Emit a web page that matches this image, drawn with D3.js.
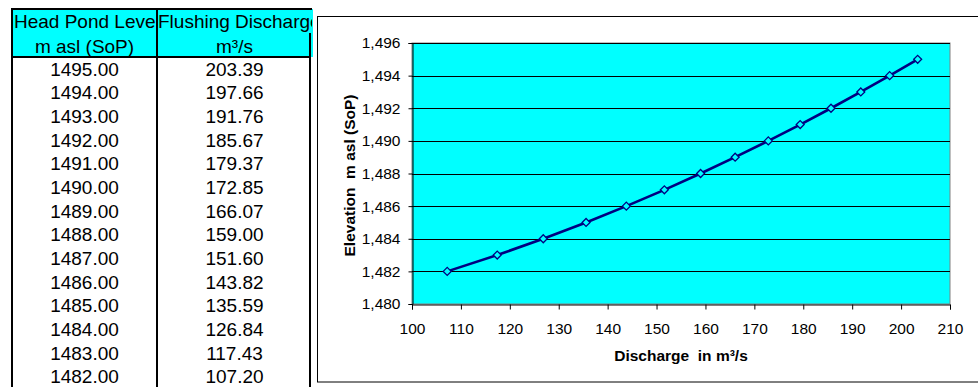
<!DOCTYPE html>
<html>
<head>
<meta charset="utf-8">
<script src="https://cdn.jsdelivr.net/npm/d3@7"></script>
<style>
  html, body { margin: 0; padding: 0; background: #fff; }
  svg { display: block; }
  text { font-family: "Liberation Sans", Arial, sans-serif; }
</style>
</head>
<body>
<svg id="sheet" width="978" height="387"></svg>
<script>
// Head pond level (m asl, SoP) and the flushing discharge it passes (m³/s)
const elevation = [1495, 1494, 1493, 1492, 1491, 1490, 1489, 1488, 1487, 1486, 1485, 1484, 1483, 1482];
const discharge = [203.39, 197.66, 191.76, 185.67, 179.37, 172.85, 166.07, 159.00, 151.60, 143.82, 135.59, 126.84, 117.43, 107.20];
const headerTop = ["Head Pond Level", "Flushing Discharge"];
const headerUnits = ["m asl (SoP)", "m³/s"];
const xTickValues = [100, 110, 120, 130, 140, 150, 160, 170, 180, 190, 200, 210];
const yTickValues = [1480, 1482, 1484, 1486, 1488, 1490, 1492, 1494, 1496];

const svg = d3.select("#sheet");

// ---------- table ----------
const tbl = { left: 12, mid: 157, right: 310, top: 9, headMid: 33, headBottom: 57, rowBase: 75.7, rowStep: 23.65 };
const tableG = svg.append("g");
const defs = svg.append("defs");
defs.append("clipPath").attr("id", "clipA")
  .append("rect").attr("x", tbl.left + 1).attr("y", 0).attr("width", tbl.mid - tbl.left - 2).attr("height", 60);
defs.append("clipPath").attr("id", "clipB")
  .append("rect").attr("x", tbl.mid + 1).attr("y", 0).attr("width", 312 - tbl.mid - 1).attr("height", 60);

tableG.append("rect")
  .attr("x", tbl.left).attr("y", tbl.top)
  .attr("width", 313 - tbl.left).attr("height", tbl.headBottom - tbl.top)
  .attr("fill", "#00ffff");

tableG.append("text").attr("clip-path", "url(#clipA)")
  .attr("x", tbl.left + 2).attr("y", 28).attr("font-size", 19).text(headerTop[0]);
tableG.append("text").attr("clip-path", "url(#clipB)")
  .attr("x", tbl.mid + 1).attr("y", 28).attr("font-size", 19).text(headerTop[1]);

const colCenters = [(tbl.left + tbl.mid) / 2, (tbl.mid + tbl.right) / 2 + 1];
headerUnits.forEach((u, i) => {
  tableG.append("text").attr("x", colCenters[i]).attr("y", 52.5)
    .attr("text-anchor", "middle").attr("font-size", 19).text(u);
});

const rows = tableG.selectAll("g.row").data(elevation.map((e, i) => ({ e, q: discharge[i] })))
  .join("g").attr("class", "row")
  .attr("transform", (d, i) => `translate(0,${tbl.rowBase + i * tbl.rowStep})`);
rows.append("text").attr("x", colCenters[0]).attr("text-anchor", "middle")
  .attr("font-size", 19).text(d => d.e.toFixed(2));
rows.append("text").attr("x", colCenters[1]).attr("text-anchor", "middle")
  .attr("font-size", 19).text(d => d.q.toFixed(2));

// table rules
const rule = (x1, y1, x2, y2, w) => tableG.append("line")
  .attr("x1", x1).attr("y1", y1).attr("x2", x2).attr("y2", y2)
  .attr("stroke", "#000").attr("stroke-width", w);
rule(tbl.left - 1, tbl.top, 312, tbl.top, 2);
rule(tbl.left, tbl.top, tbl.left, 387, 2);
rule(tbl.mid, tbl.top, tbl.mid, 387, 2);
rule(tbl.left, tbl.headBottom, tbl.right, tbl.headBottom, 2);
rule(tbl.right, tbl.headMid, tbl.right, 387, 2);

// ---------- chart ----------
svg.append("rect")
  .attr("x", 317.5).attr("y", 16.5).attr("width", 700).attr("height", 365.5)
  .attr("fill", "#fff").attr("stroke", "#000").attr("stroke-width", 1);

const plot = { left: 412, right: 950, top: 43, bottom: 304 };
const x = d3.scaleLinear().domain([100, 210]).range([plot.left, plot.right]);
const y = d3.scaleLinear().domain([1480, 1496]).range([plot.bottom, plot.top]);

const chart = svg.append("g");
chart.append("rect")
  .attr("x", plot.left).attr("y", plot.top)
  .attr("width", plot.right - plot.left).attr("height", plot.bottom - plot.top)
  .attr("fill", "#00ffff").attr("stroke", "#808080").attr("stroke-width", 1);

// horizontal gridlines
chart.append("g").selectAll("line")
  .data(yTickValues.filter(v => v > 1480))
  .join("line")
  .attr("x1", plot.left).attr("x2", plot.right)
  .attr("y1", d => Math.round(y(d)) + 0.5).attr("y2", d => Math.round(y(d)) + 0.5)
  .attr("stroke", "#000").attr("stroke-width", 1);

const yAxis = chart.append("g")
  .attr("transform", `translate(${plot.left + 0.5},0)`)
  .call(d3.axisLeft(y).tickValues(yTickValues).tickSize(4).tickPadding(8).tickFormat(d3.format(",")));
const xAxis = chart.append("g")
  .attr("transform", `translate(0,${plot.bottom + 0.5})`)
  .call(d3.axisBottom(x).tickValues(xTickValues).tickSize(5).tickPadding(13).tickFormat(d3.format("d")));
[yAxis, xAxis].forEach(a => {
  a.select(".domain").attr("stroke", "#000");
  a.selectAll(".tick line").attr("stroke", "#000");
  a.selectAll("text").attr("font-size", 15.5).attr("fill", "#000")
    .attr("font-family", "'Liberation Sans', Arial, sans-serif");
});

// rating curve
const pts = elevation.map((e, i) => ({ e, q: discharge[i] }));
chart.append("path")
  .datum(pts)
  .attr("fill", "none").attr("stroke", "#000080").attr("stroke-width", 2.6)
  .attr("d", d3.line().x(d => x(d.q)).y(d => y(d.e)));
chart.append("g").selectAll("path")
  .data(pts)
  .join("path")
  .attr("transform", d => `translate(${x(d.q)},${y(d.e)})`)
  .attr("d", d3.symbol(d3.symbolDiamond2, 40))
  .attr("fill", "#00ffff").attr("stroke", "#000080").attr("stroke-width", 1.3);

// axis titles
chart.append("text")
  .attr("x", (plot.left + plot.right) / 2).attr("y", 361)
  .attr("text-anchor", "middle").attr("font-size", 15.5).attr("font-weight", "bold")
  .style("white-space", "pre")
  .text("Discharge  in m³/s");
chart.append("text")
  .attr("transform", `translate(355,${(plot.top + plot.bottom) / 2 + 2}) rotate(-90)`)
  .attr("text-anchor", "middle").attr("font-size", 15.5).attr("font-weight", "bold")
  .style("white-space", "pre")
  .text("Elevation  m asl (SoP)");
</script>
</body>
</html>
